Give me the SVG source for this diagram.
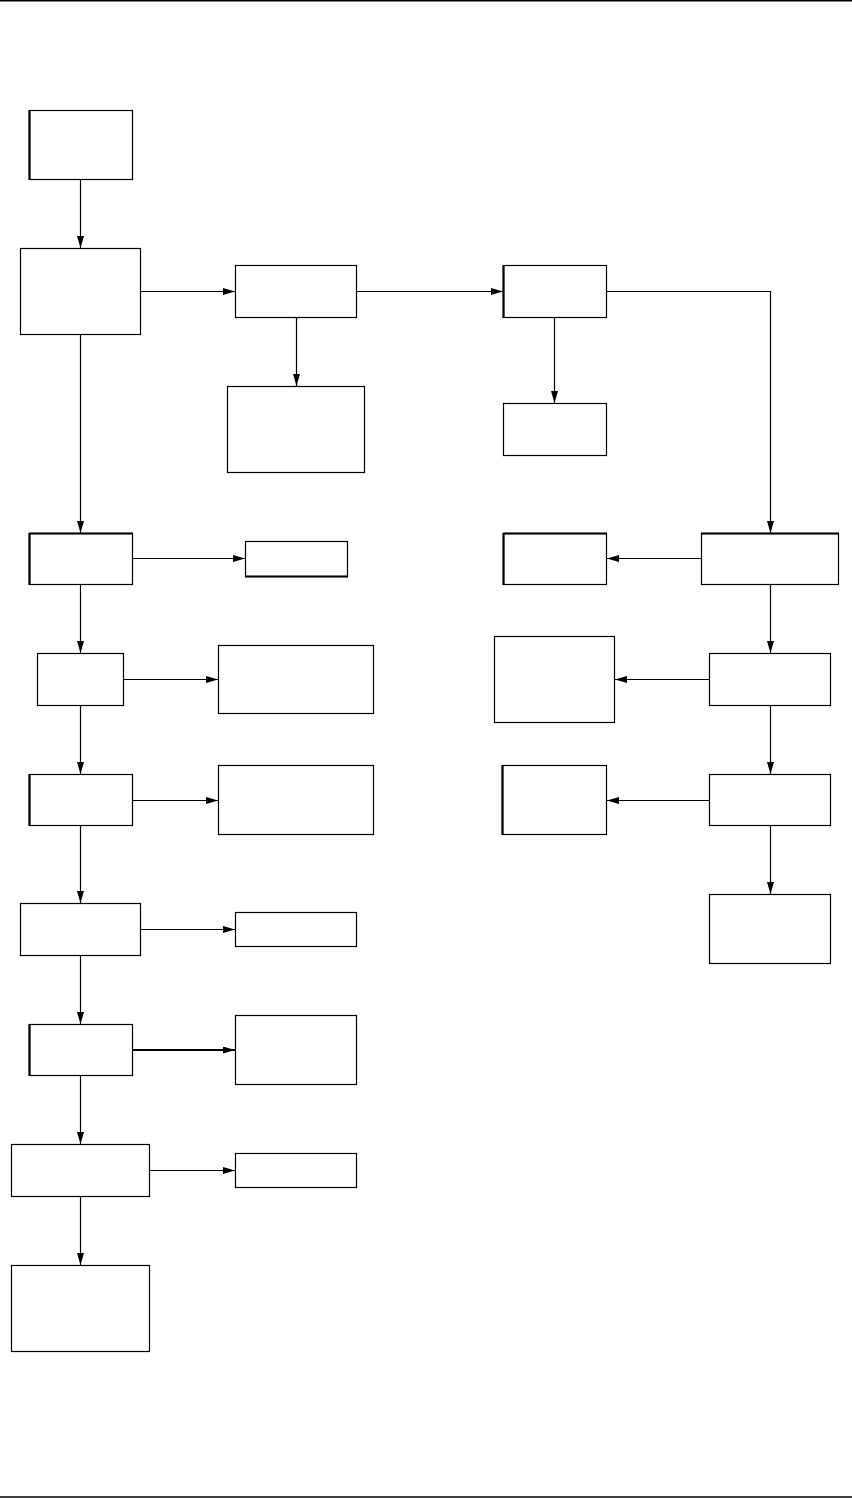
<svg xmlns="http://www.w3.org/2000/svg" width="852" height="1498" viewBox="0 0 852 1498">
<style>
.n rect{fill:#fff;stroke:#000;stroke-width:1.2}
.n line{stroke:#000;stroke-width:2.2}
.c path{fill:none;stroke:#000;stroke-width:1.2}
.rule{stroke:#000;stroke-width:1.5}
</style>
<defs>
<marker id="ah" markerUnits="userSpaceOnUse" markerWidth="13" markerHeight="8" refX="12" refY="3.5" orient="auto">
<path d="M0,0 L12,3.5 L0,7 z" fill="#000"/>
</marker>
</defs>
<rect width="852" height="1498" fill="#fff"/>
<line class="rule" x1="0" y1="0.75" x2="852" y2="0.75"/>
<line class="rule" x1="0" y1="1497" x2="852" y2="1497"/>
<g class="c" id="connectors">
<path d="M80.5,179.5 V248" marker-end="url(#ah)"/>
<path d="M140.5,291.5 H235" marker-end="url(#ah)"/>
<path d="M356.5,291.5 H503" marker-end="url(#ah)"/>
<path d="M296.5,317.5 V386" marker-end="url(#ah)"/>
<path d="M554.5,317.5 V403" marker-end="url(#ah)"/>
<path d="M607,291.5 H770.5 V533" marker-end="url(#ah)"/>
<path d="M80.5,334.5 V533" marker-end="url(#ah)"/>
<path d="M701,558.5 H607" marker-end="url(#ah)"/>
<path d="M133,558.5 H245" marker-end="url(#ah)"/>
<path d="M80.5,584.5 V653" marker-end="url(#ah)"/>
<path d="M124,679.5 H218" marker-end="url(#ah)"/>
<path d="M770.5,584.5 V653" marker-end="url(#ah)"/>
<path d="M709,679.5 H615" marker-end="url(#ah)"/>
<path d="M80.5,705.5 V774" marker-end="url(#ah)"/>
<path d="M133,800.5 H218" marker-end="url(#ah)"/>
<path d="M770.5,705.5 V774" marker-end="url(#ah)"/>
<path d="M709,800.5 H607" marker-end="url(#ah)"/>
<path d="M770.5,825.5 V894" marker-end="url(#ah)"/>
<path d="M80.5,825.5 V903" marker-end="url(#ah)"/>
<path d="M140.5,929.5 H235" marker-end="url(#ah)"/>
<path d="M80.5,955.5 V1024" marker-end="url(#ah)"/>
<path d="M133,1050 H235" marker-end="url(#ah)" style="stroke-width:2"/>
<path d="M80.5,1075.5 V1144" marker-end="url(#ah)"/>
<path d="M149.5,1170.5 H235" marker-end="url(#ah)"/>
<path d="M80.5,1196.5 V1265" marker-end="url(#ah)"/>
</g>
<g class="n" id="n1"><rect x="29.5" y="110.5" width="103" height="69"/><line x1="29.5" y1="110" x2="29.5" y2="180"/></g>
<g class="n" id="n2"><rect x="20.5" y="248.5" width="120" height="86"/></g>
<g class="n" id="n3"><rect x="235.5" y="265.5" width="121" height="52"/></g>
<g class="n" id="n4"><rect x="227.5" y="386.5" width="137" height="86"/></g>
<g class="n" id="n5"><rect x="503.5" y="265.5" width="103" height="52"/><line x1="503.5" y1="265" x2="503.5" y2="318"/></g>
<g class="n" id="n6"><rect x="503.5" y="403.5" width="103" height="52"/></g>
<g class="n" id="n7"><rect x="701.5" y="533.5" width="137" height="51"/><line x1="701" y1="533.5" x2="839" y2="533.5"/></g>
<g class="n" id="n8"><rect x="503.5" y="533.5" width="103" height="51"/><line x1="503" y1="533.5" x2="607" y2="533.5"/><line x1="503.5" y1="533" x2="503.5" y2="585"/></g>
<g class="n" id="n9"><rect x="29.5" y="533.5" width="103" height="51"/><line x1="29" y1="533.5" x2="133" y2="533.5"/><line x1="29.5" y1="533" x2="29.5" y2="585"/></g>
<g class="n" id="n10"><rect x="245.5" y="541.5" width="102" height="35"/><line x1="245" y1="576.5" x2="348" y2="576.5"/></g>
<g class="n" id="n11"><rect x="37.5" y="653.5" width="86" height="52"/></g>
<g class="n" id="n12"><rect x="218.5" y="645.5" width="155" height="68"/></g>
<g class="n" id="n13"><rect x="494.5" y="636.5" width="120" height="86"/></g>
<g class="n" id="n14"><rect x="709.5" y="653.5" width="121" height="52"/></g>
<g class="n" id="n15"><rect x="29.5" y="774.5" width="103" height="51"/><line x1="29.5" y1="774" x2="29.5" y2="826"/></g>
<g class="n" id="n16"><rect x="218.5" y="765.5" width="155" height="69"/></g>
<g class="n" id="n17"><rect x="502.5" y="765.5" width="104" height="69"/><line x1="502.5" y1="765" x2="502.5" y2="835"/></g>
<g class="n" id="n18"><rect x="709.5" y="774.5" width="121" height="51"/></g>
<g class="n" id="n19"><rect x="709.5" y="894.5" width="121" height="69"/></g>
<g class="n" id="n20"><rect x="20.5" y="903.5" width="120" height="52"/></g>
<g class="n" id="n21"><rect x="235.5" y="912.5" width="121" height="34"/></g>
<g class="n" id="n22"><rect x="29.5" y="1024.5" width="103" height="51"/><line x1="29.5" y1="1024" x2="29.5" y2="1076"/></g>
<g class="n" id="n23"><rect x="235.5" y="1015.5" width="121" height="69"/></g>
<g class="n" id="n24"><rect x="11.5" y="1144.5" width="138" height="52"/></g>
<g class="n" id="n25"><rect x="235.5" y="1153.5" width="121" height="34"/></g>
<g class="n" id="n26"><rect x="11.5" y="1265.5" width="138" height="86"/></g>
</svg>
